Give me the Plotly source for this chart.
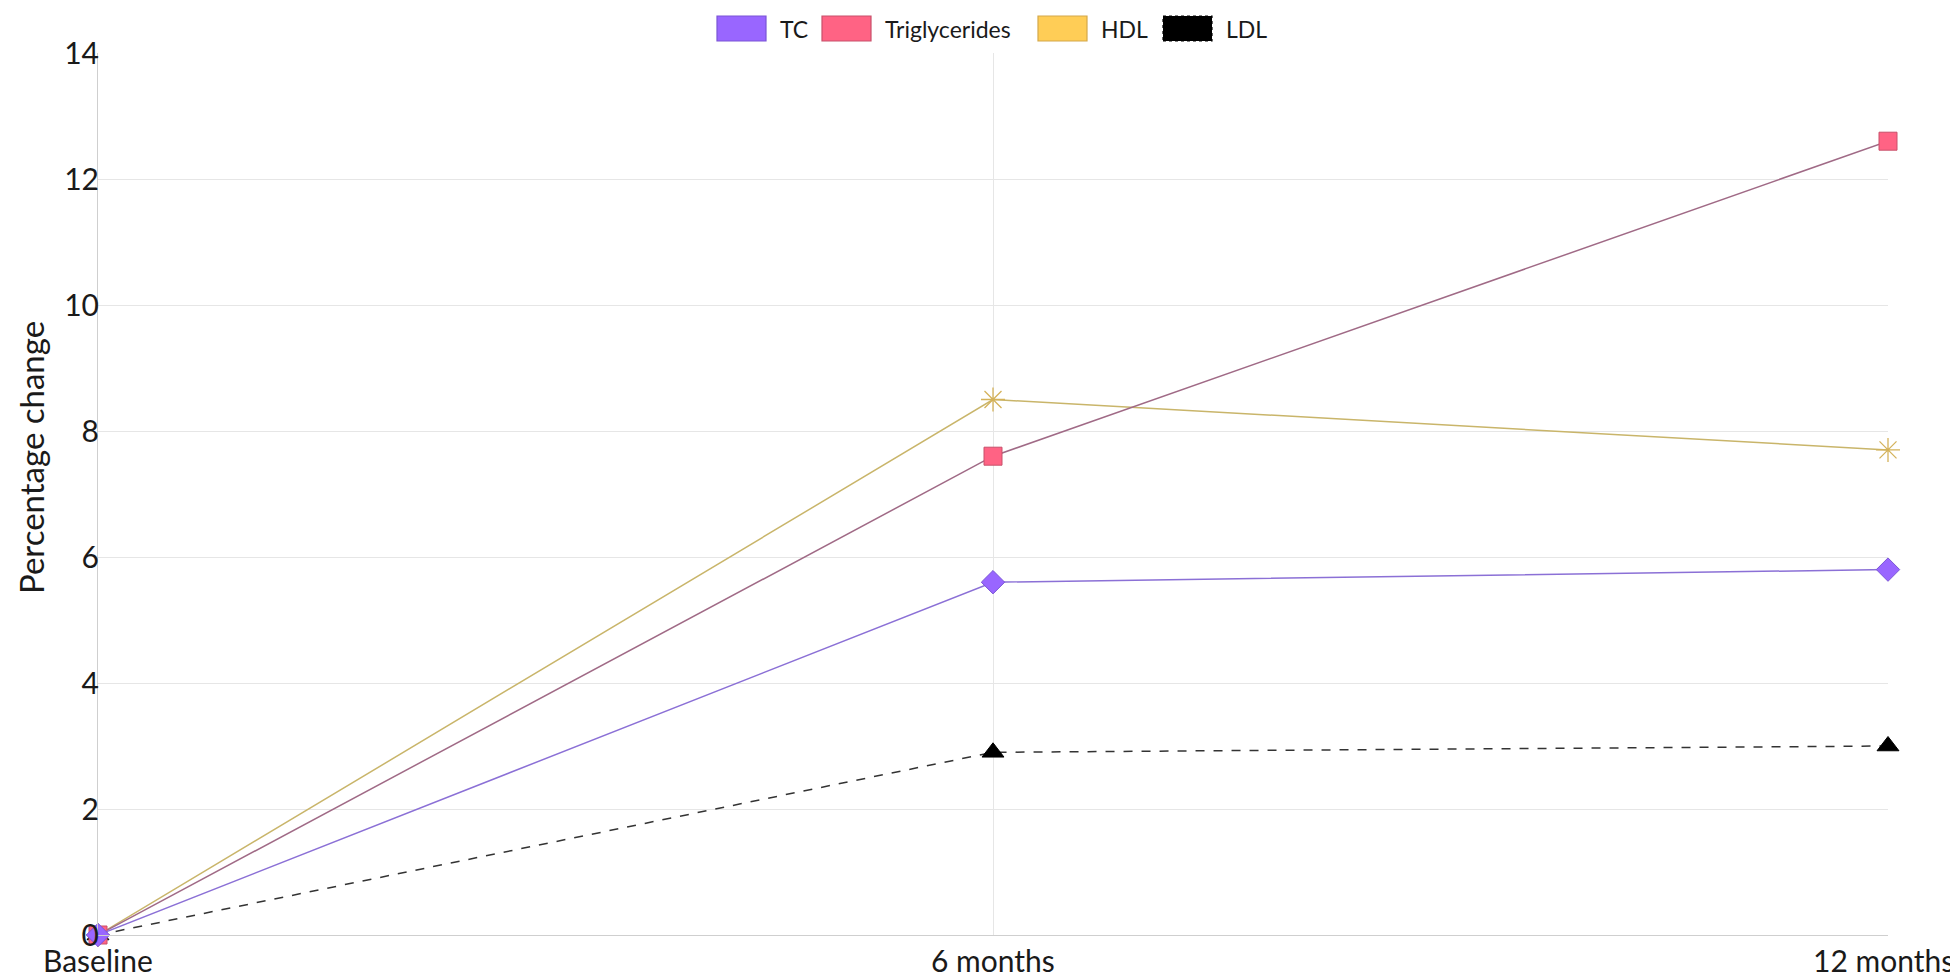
import plotly.graph_objects as go

# ---- data ----
categories = ["Baseline", "6 months", "12 months"]
tc = [0, 5.6, 5.8]
triglycerides = [0, 7.6, 12.6]
hdl = [0, 8.5, 7.7]
ldl = [0, 2.9, 3.0]
y_ticks = [0, 2, 4, 6, 8, 10, 12, 14]

# page body adds an 8px offset; figure sized to fill the rest of the window
OFF = 8
W, H = 1958 - OFF, 977 - OFF
L, R, T, B = 98 - OFF, 70, 53 - OFF, 42
PW, PH = W - L - R, H - T - B

FONT = "Lato, 'Noto Sans', sans-serif"
TXT = "#1a1a1a"

fig = go.Figure()

series = [
    ("LDL", ldl, dict(color="#333333", width=1.5, dash="dash"),
     dict(symbol="triangle-up", size=19, color="#000000", line=dict(color="#000000", width=1))),
    ("HDL", hdl, dict(color="#c9b56a", width=1.5),
     dict(symbol="asterisk-open", size=20, color="#d4b25a", line=dict(color="#d4b25a", width=1.3))),
    ("Triglycerides", triglycerides, dict(color="#a06a86", width=1.5),
     dict(symbol="square", size=18, color="#ff6384", line=dict(color="#c8506a", width=1))),
    ("TC", tc, dict(color="#8b70d6", width=1.5),
     dict(symbol="diamond", size=18, color="#9966ff", line=dict(color="#7a55d6", width=1))),
]
for name, ys, ln, mk in series:
    fig.add_trace(go.Scatter(x=categories, y=ys, mode="lines+markers", name=name,
                             line=ln, marker=mk, cliponaxis=False, showlegend=False))

# ---- screen pixel -> paper helpers ----
def px(x):
    return (x - OFF - L) / PW

def py(y):
    return (H - B - (y - OFF)) / PH

# ---- custom legend ----
legend_items = [
    ("TC", 717, "#9966ff", "#7a55d6", "solid"),
    ("Triglycerides", 822, "#ff6384", "#c8506a", "solid"),
    ("HDL", 1038, "#ffcd56", "#d4a84a", "solid"),
    ("LDL", 1163, "#000000", "#000000", "dot"),
]
shapes = []
annotations = []
for label, x0, fill, border, dash in legend_items:
    shapes.append(dict(type="rect", xref="paper", yref="paper",
                       x0=px(x0), x1=px(x0 + 49), y0=py(41), y1=py(16),
                       fillcolor=fill, line=dict(color=border, width=1.2, dash=dash)))
    annotations.append(dict(text=label, xref="paper", yref="paper",
                            x=px(x0 + 61), y=py(29), xanchor="left", yanchor="middle",
                            showarrow=False, font=dict(family=FONT, size=23, color=TXT)))

# ---- x category labels ----
for i, cat in enumerate(categories):
    if i == len(categories) - 1:
        annotations.append(dict(text=cat, xref="paper", yref="paper", x=px(1956), y=py(960),
                                xanchor="right", yanchor="middle",
                                showarrow=False, font=dict(family=FONT, size=30, color=TXT)))
    else:
        annotations.append(dict(text=cat, xref="x", yref="paper", x=cat, y=py(960),
                                xanchor="center", yanchor="middle",
                                showarrow=False, font=dict(family=FONT, size=30, color=TXT)))

# ---- y title ----
annotations.append(dict(text="Percentage change", xref="paper", yref="paper",
                        x=px(9), y=py(458), xanchor="left", yanchor="middle",
                        textangle=-90, showarrow=False,
                        font=dict(family=FONT, size=33, color=TXT)))

fig.update_layout(
    width=W, height=H,
    margin=dict(l=L, r=R, t=T, b=B, autoexpand=False),
    paper_bgcolor="white", plot_bgcolor="white",
    font=dict(family=FONT, color=TXT),
    shapes=shapes, annotations=annotations,
    showlegend=False,
)
fig.update_xaxes(
    type="category", range=[0, 2],
    showgrid=True, gridcolor="#e6e6e6", gridwidth=1,
    showline=True, linecolor="#cfcfcf", linewidth=1,
    showticklabels=False, ticks="",
    zeroline=False, automargin=False,
)
fig.update_yaxes(
    range=[0, 14], tickvals=y_ticks,
    showgrid=True, gridcolor="#e6e6e6", gridwidth=1,
    showline=True, linecolor="#cfcfcf", linewidth=1,
    ticks="outside", ticklen=0, tickcolor="white", ticklabelstandoff=-8,
    tickfont=dict(family=FONT, size=30, color=TXT),
    zeroline=False, automargin=False,
)

fig.write_html("out.html")
